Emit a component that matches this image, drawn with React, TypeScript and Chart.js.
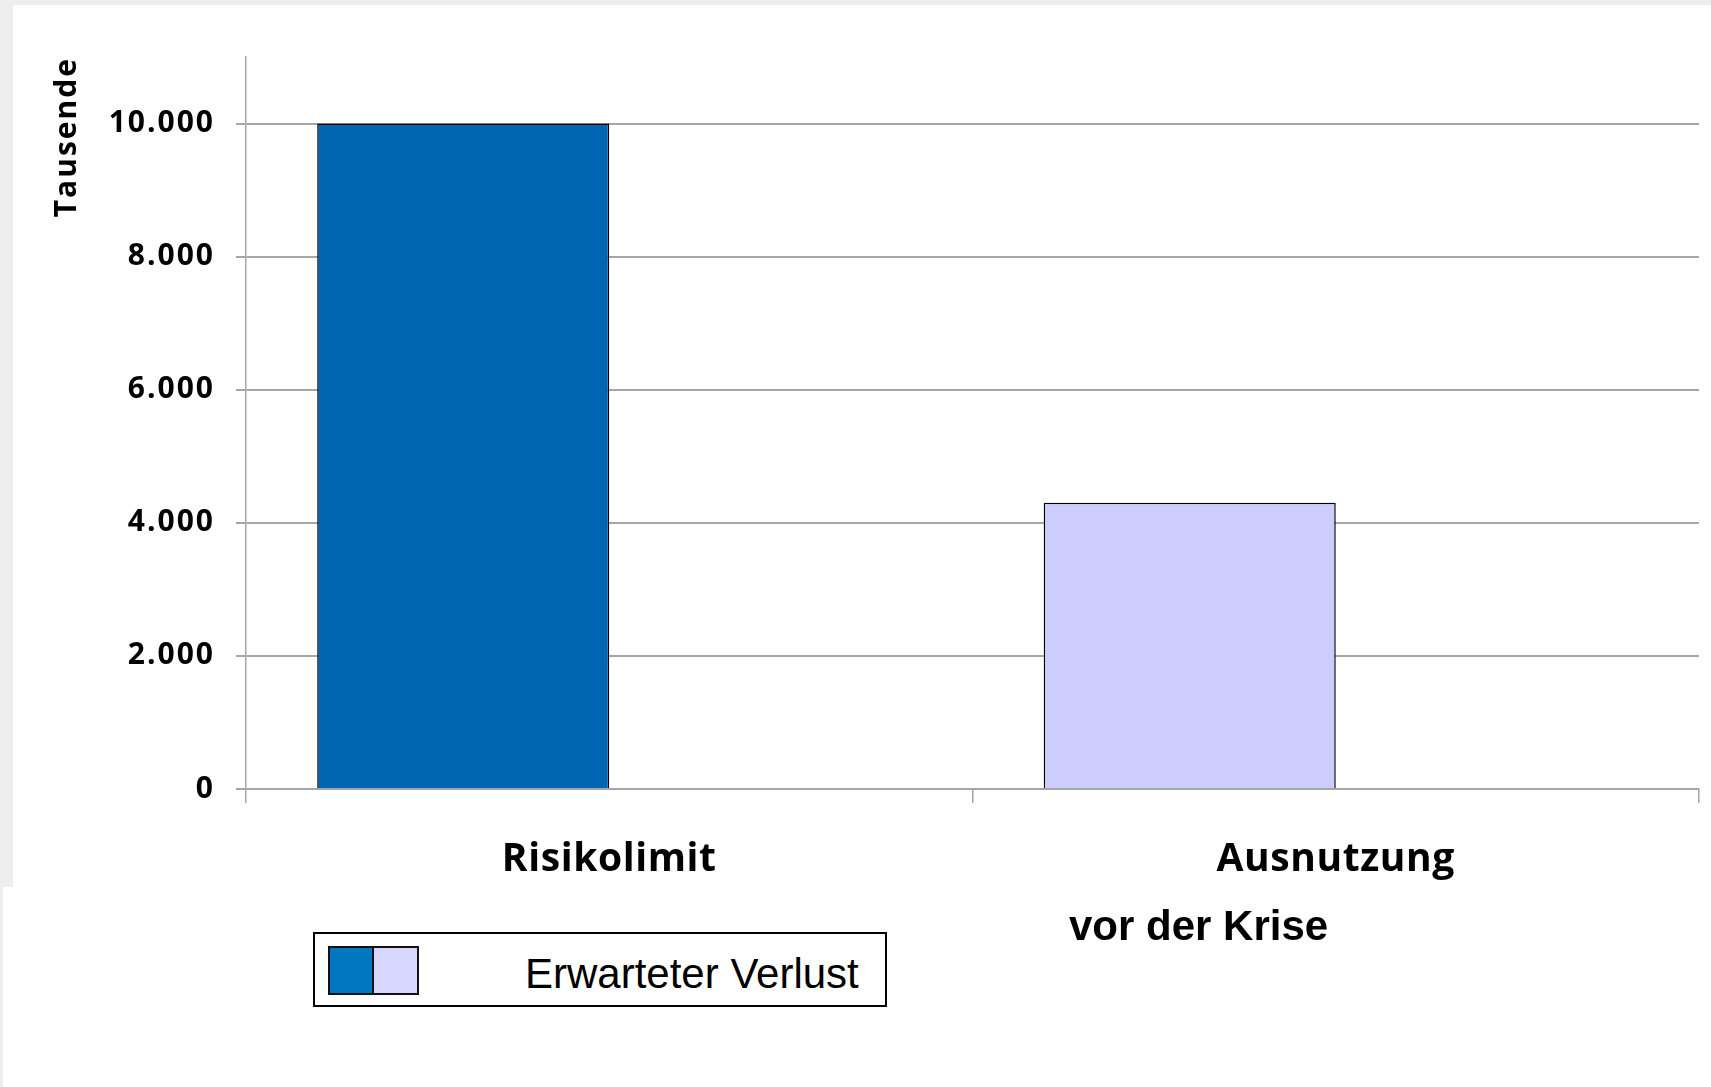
import React, { useEffect, useRef } from 'react';
import { Chart, registerables } from 'chart.js';

Chart.register(...registerables);

const categories = ['Risikolimit', 'Ausnutzung'];
const values = [10000, 4300];
const emptySeries = [null, null];
const barColors = ['#0066b3', '#ccccff'];
const yTickValues = [0, 2000, 4000, 6000, 8000, 10000];
const yMax = 11000;
const yTitle = 'Tausende';
const xTitle = 'vor der Krise';
const legendLabel = 'Erwarteter Verlust';
const legendColors = ['#0077c0', '#d6d6ff'];

const fmt = (v: number) => String(v).replace(/\B(?=(\d{3})+(?!\d))/g, '.');

const W = 1711;
const H = 1087;

const spacingPlugin = {
  id: 'yLetterSpacing',
  beforeDraw(chart: any) {
    (chart.ctx as any).letterSpacing = '2px';
  },
  beforeDatasetsDraw(chart: any) {
    (chart.ctx as any).letterSpacing = '0.6px';
  },
  afterDraw(chart: any) {
    (chart.ctx as any).letterSpacing = '0px';
  },
};

export default function App() {
  const ref = useRef<HTMLCanvasElement | null>(null);

  useEffect(() => {
    if (!ref.current) return;
    const gridColor = '#a6a6a6';
    const chart = new Chart(ref.current, {
      type: 'bar',
      data: {
        labels: categories,
        datasets: [
          {
            label: legendLabel,
            data: values,
            backgroundColor: barColors,
            borderColor: '#000000',
            borderWidth: 1.5,
            borderSkipped: 'start',
            categoryPercentage: 0.804,
            barPercentage: 1,
          },
          {
            label: '',
            data: emptySeries,
            backgroundColor: barColors,
            borderColor: '#000000',
            borderWidth: 1.5,
            categoryPercentage: 0.804,
            barPercentage: 1,
          },
        ],
      },
      options: {
        animation: false,
        responsive: false,
        maintainAspectRatio: false,
        devicePixelRatio: 1,
        layout: { padding: { left: 0, top: 57, right: 12, bottom: 0 } },
        plugins: {
          legend: { display: false },
          tooltip: { enabled: false },
          title: { display: false },
        },
        scales: {
          x: {
            grid: {
              offset: true,
              drawOnChartArea: false,
              drawTicks: true,
              tickLength: 14,
              color: gridColor,
              lineWidth: 1.5,
            },
            border: { display: true, color: gridColor, width: 2 },
            ticks: {
              font: { family: '"Open Sans", sans-serif', weight: 'bold', size: 39 },
              color: '#000000',
              padding: 33,
              maxRotation: 0,
              autoSkip: false,
              z: 1,
            },
            afterFit: (s: any) => {
              s.height = H - 789;
            },
          },
          y: {
            min: 0,
            max: yMax,
            afterBuildTicks: (s: any) => {
              s.ticks = yTickValues.map((v) => ({ value: v }));
            },
            ticks: {
              font: { family: '"Open Sans", sans-serif', weight: 'bold', size: 30 },
              color: '#000000',
              padding: 21,
              callback: (v: any) => fmt(Number(v)),
            },
            grid: {
              color: gridColor,
              lineWidth: 2,
              drawTicks: true,
              tickLength: 10,
            },
            border: { display: true, color: gridColor, width: 1.5 },
            title: {
              display: true,
              text: yTitle,
              align: 'end',
              color: '#000000',
              font: { family: '"Open Sans", sans-serif', weight: 'bold', size: 30 },
              padding: { top: 49, bottom: 0 },
            },
            afterFit: (s: any) => {
              s.width = 246;
            },
          },
        },
      },
      plugins: [spacingPlugin],
    } as any);
    return () => chart.destroy();
  }, []);

  const abs = (o: React.CSSProperties): React.CSSProperties => ({ position: 'absolute', ...o });

  return (
    <div style={{ position: 'fixed', left: 0, top: 0, width: W, height: H, background: '#eeeeee', overflow: 'hidden' }}>
      <div style={abs({ left: 13, top: 5, width: W - 13, height: 882, background: '#ffffff' })} />
      <div style={abs({ left: 3, top: 887, width: W - 3, height: H - 887, background: '#ffffff' })} />
      <canvas ref={ref} width={W} height={H} style={abs({ left: 0, top: 0, width: W, height: H, display: 'block' })} />
      <div
        style={abs({
          left: 313,
          top: 932,
          width: 574,
          height: 75,
          border: '2px solid #000',
          boxSizing: 'border-box',
          background: '#ffffff',
        })}
      />
      <div style={abs({ left: 328, top: 946, width: 46, height: 49, background: legendColors[0], border: '2px solid #111', boxSizing: 'border-box' })} />
      <div style={abs({ left: 372, top: 946, width: 47, height: 49, background: legendColors[1], border: '2px solid #111', boxSizing: 'border-box' })} />
      <div
        style={abs({
          left: 525,
          top: 953,
          fontFamily: '"Liberation Sans", Arial, sans-serif',
          fontSize: 42,
          lineHeight: '42px',
          color: '#000',
          whiteSpace: 'nowrap',
        })}
      >
        {legendLabel}
      </div>
      <div
        style={abs({
          left: 1069,
          top: 905,
          fontFamily: '"Liberation Sans", Arial, sans-serif',
          fontWeight: 'bold',
          fontSize: 42,
          lineHeight: '42px',
          color: '#000',
          whiteSpace: 'nowrap',
        })}
      >
        {xTitle}
      </div>
    </div>
  );
}
